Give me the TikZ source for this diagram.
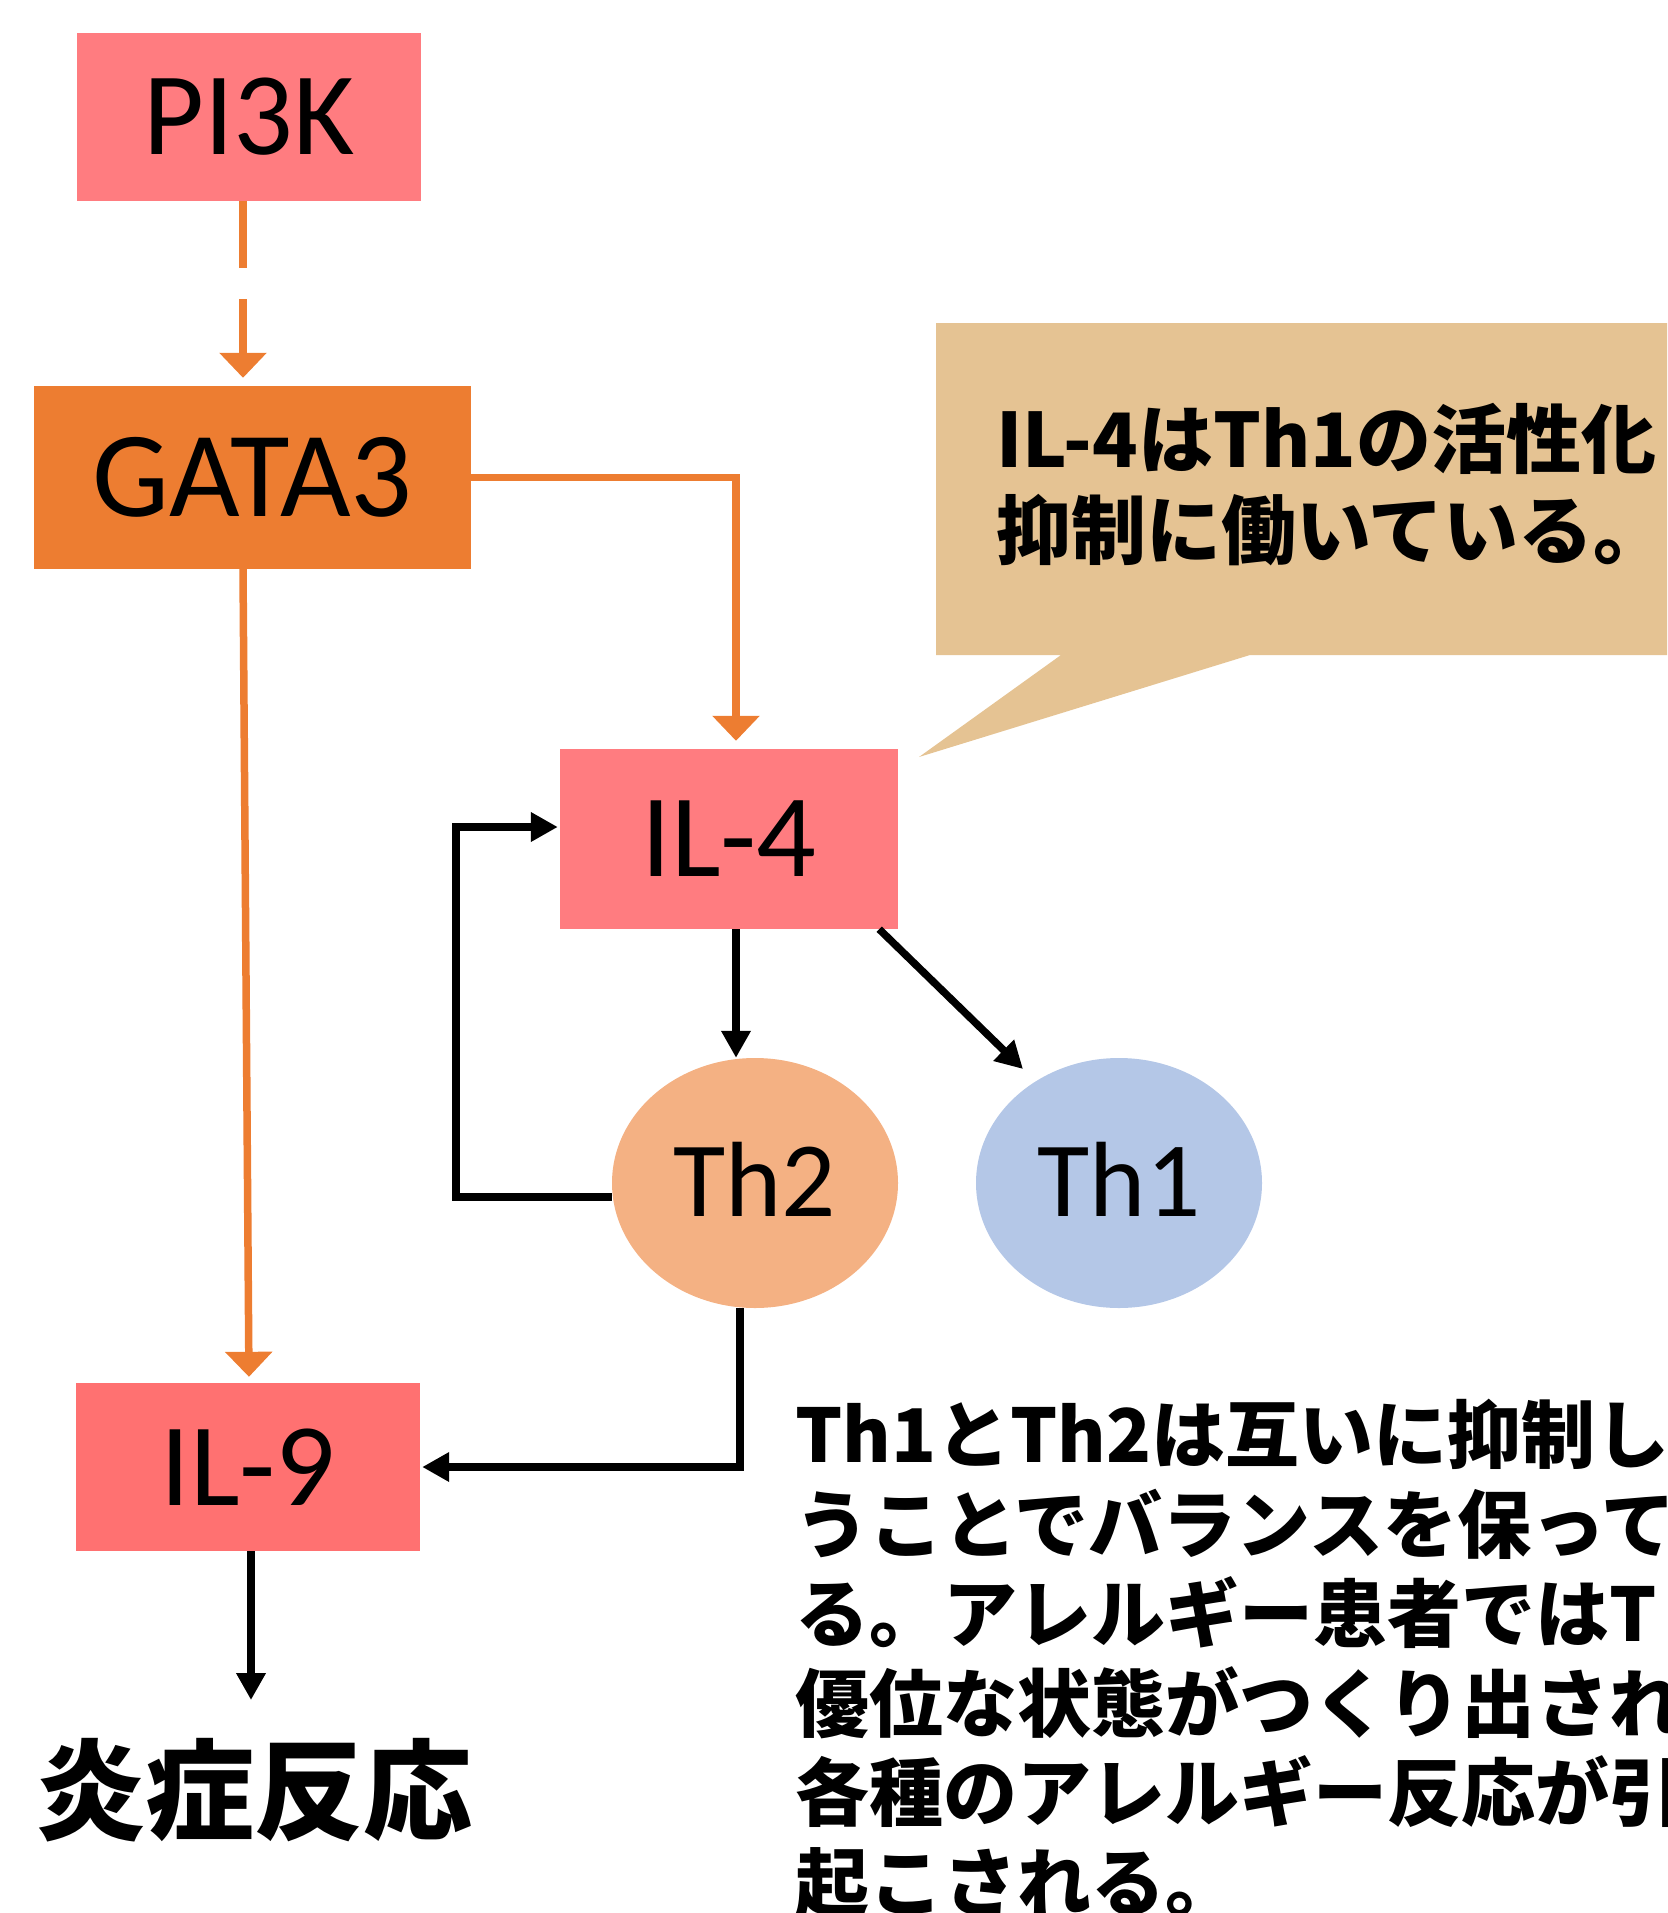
\documentclass[tikz,border=0pt]{standalone}
\usepackage{fontspec}
\setmainfont{Carlito}
\newfontfamily\jp{Noto Sans CJK JP}
\usetikzlibrary{arrows.meta,calc,shapes.geometric}
\definecolor{pinkbox}{HTML}{FF7C80}
\definecolor{ilninecol}{HTML}{FF7171}
\definecolor{gatacol}{HTML}{ED7D31}
\definecolor{thtwocol}{HTML}{F4B183}
\definecolor{thonecol}{HTML}{B4C7E7}
\definecolor{calloutcol}{HTML}{E5C393}
\begin{document}
\begin{tikzpicture}[x=1pt,y=-1pt,
  box/.style={rectangle, inner sep=0pt, font=\fontsize{118}{120}\selectfont},
  cell/.style={ellipse, inner sep=0pt, minimum width=286pt, minimum height=250pt, font=\fontsize{107}{110}\selectfont},
  oarr/.style={draw=gatacol, line width=7.5pt, -{Triangle[length=25pt,width=46pt]}},
  barr/.style={draw=black, line width=7.5pt, -{Triangle[length=27pt,width=28pt]}},
  jpc/.style={anchor=base west, inner sep=0pt, font=\jp\bfseries\fontsize{75}{80}\selectfont},
  jpb/.style={anchor=base west, inner sep=0pt, font=\jp\bfseries\fontsize{74}{80}\selectfont},
]
\useasboundingbox (0,0) rectangle (1667,1913);
\begin{scope}
\clip (0,0) rectangle (1667,1913);
% callout shape
\fill[calloutcol] (936,323) -- (1700,323) -- (1700,655) -- (1250,655) -- (919,757) -- (1061,655) -- (936,655) -- cycle;
% nodes
\node[box, fill=pinkbox, minimum width=344pt, minimum height=168pt] (pi3k) at (249,117) {PI3K};
\node[box, fill=gatacol, minimum width=437pt, minimum height=183pt, font=\fontsize{122}{124}\selectfont] (gata3) at (252.5,477.5) {GATA3};
\node[box, fill=pinkbox, minimum width=338pt, minimum height=180pt] (il4) at (729,839) {IL-4};
\node[box, fill=ilninecol, minimum width=344pt, minimum height=168pt] (il9) at (248,1467) {IL-9};
\node[cell, fill=thtwocol, text depth=8pt] (th2) at (755,1183) {Th2};
\node[cell, fill=thonecol, text depth=8pt] (th1) at (1119,1183) {Th1};
\node[anchor=base west, inner sep=0pt, font=\jp\bfseries\fontsize{109}{112}\selectfont] (infl) at (36,1831) {炎症反応};
\coordinate (inflarrow) at (251,1700);
\coordinate (fb) at (456,827);
% connectors
\draw[oarr, dash pattern=on 67pt off 31pt on 400pt off 10pt, shorten >=8pt] ([xshift=-6pt]pi3k.south) -- ([xshift=-9.5pt]gata3.north);
\draw[oarr, shorten >=8pt] (gata3.east) -| ([xshift=7pt]il4.north);
\draw[oarr, shorten >=6pt] ([xshift=-9.5pt]gata3.south) -- ([xshift=1pt]il9.north);
\draw[barr] ([xshift=7pt]il4.south) -- ([xshift=7pt]il4.south |- th2.north);
\draw[barr] ([xshift=-19pt]il4.south east) -- ([shift={(-96,-114)}]th1.center);
\draw[barr, shorten >=2pt] ([yshift=-14pt]th2.west) -| (fb) -- ([yshift=12pt]il4.west);
\draw[barr, shorten >=2pt] ([xshift=-15pt]th2.south) |- (il9.east);
\draw[barr] (il9.south -| inflarrow) -- (inflarrow);
% texts
\node[jpc] (c1) at (996,467) {IL-4はTh1の活性化};
\node[jpc] (c2) at (996,558) {抑制に働いている。};
\node[jpb] (t1) at (795,1462) {Th1とTh2は互いに抑制し};
\node[jpb] (t2) at (795,1552) {うことでバランスを保って};
\node[jpb] (t3) at (795,1641) {る。アレルギー患者ではT};
\node[jpb] (t4) at (795,1731) {優位な状態がつくり出され};
\node[jpb] (t5) at (795,1820) {各種のアレルギー反応が引};
\node[jpb] (t6) at (795,1910) {起こされる。};
\end{scope}
\end{tikzpicture}
\end{document}
